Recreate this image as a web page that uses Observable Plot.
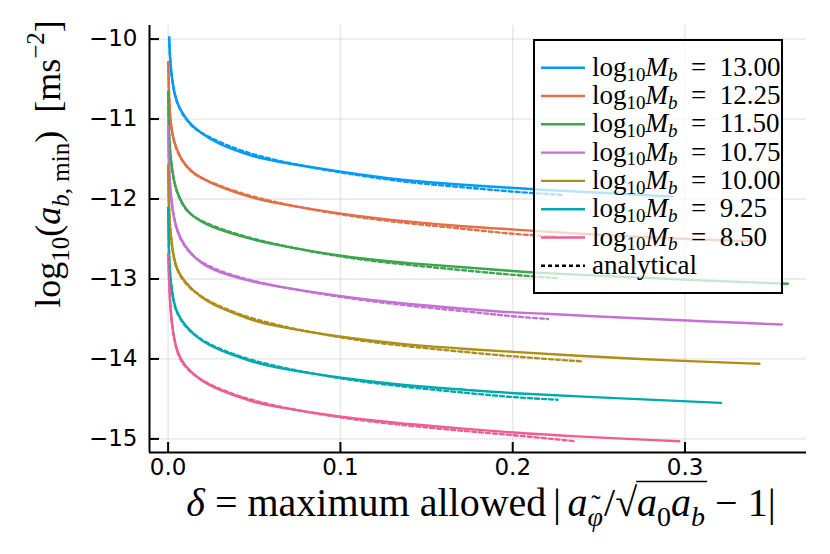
<!DOCTYPE html>
<html><head><meta charset="utf-8">
<script src="https://cdn.jsdelivr.net/npm/d3@7"></script>
<script src="https://cdn.jsdelivr.net/npm/@observablehq/plot@0.6"></script>
<style>body{margin:0;background:#fff}</style>
</head><body><div id="chart"></div>
<script>
// ---- data ----
const massLabels = ["13.00","12.25","11.50","10.75","10.00","9.25","8.50"];
const colors = ["#009AFA","#E36F47","#3EA44E","#C371D2","#AC8E18","#00A9AD","#ED5E93"];
const xTicks = [0, 0.1, 0.2, 0.3];
const yTicks = [-15, -14, -13, -12, -11, -10];

// numerical curves (delta, log10 a_min)
const d1300 = [0.0006,0.0010,0.0017,0.0029,0.0048,0.0077,0.0126,0.0188,0.0285,0.0479,0.0593,0.1,0.1368,0.1756,0.2,0.2124,0.25,0.2928];
const a1300 = [-9.98,-10.20,-10.39,-10.60,-10.77,-10.91,-11.06,-11.17,-11.31,-11.46,-11.52,-11.66,-11.77,-11.83,-11.86,-11.88,-11.92,-11.97];
const d1225 = [0.0001,0.0005,0.0012,0.0025,0.0048,0.0089,0.0145,0.0188,0.0285,0.0479,0.0593,0.1,0.1368,0.1756,0.2,0.2124,0.25,0.3,0.3403];
const a1225 = [-10.29,-10.72,-11.00,-11.20,-11.38,-11.55,-11.67,-11.73,-11.84,-11.98,-12.04,-12.19,-12.28,-12.35,-12.38,-12.40,-12.45,-12.50,-12.53];
const d1150 = [0.0001,0.0003,0.0013,0.0036,0.0052,0.0089,0.0165,0.0285,0.0479,0.0593,0.1,0.1368,0.1756,0.2,0.2124,0.25,0.3,0.3597];
const a1150 = [-10.66,-11.10,-11.50,-11.80,-11.91,-12.10,-12.26,-12.38,-12.50,-12.56,-12.72,-12.80,-12.86,-12.90,-12.92,-12.96,-13.01,-13.06];
const d1075 = [0.0001,0.0004,0.0019,0.0048,0.0089,0.0188,0.0285,0.0479,0.0593,0.1,0.1368,0.1756,0.2,0.2163,0.25,0.3,0.3562];
const a1075 = [-11.09,-11.60,-12.08,-12.38,-12.58,-12.81,-12.91,-13.03,-13.08,-13.22,-13.31,-13.38,-13.42,-13.43,-13.47,-13.52,-13.57];
const d1000 = [0.0001,0.0003,0.0013,0.0035,0.0052,0.0091,0.0188,0.0285,0.0479,0.0593,0.1,0.1368,0.1756,0.2,0.228,0.3,0.3432];
const a1000 = [-11.58,-12.05,-12.45,-12.76,-12.88,-13.03,-13.23,-13.35,-13.51,-13.58,-13.73,-13.82,-13.88,-13.91,-13.95,-14.03,-14.06];
const d925 = [0.0001,0.0004,0.0013,0.0033,0.0052,0.0091,0.0188,0.0285,0.0479,0.0593,0.1,0.1368,0.1756,0.2,0.25,0.3,0.3209];
const a925 = [-12.11,-12.68,-13.02,-13.30,-13.42,-13.57,-13.77,-13.88,-14.03,-14.10,-14.24,-14.33,-14.39,-14.43,-14.48,-14.53,-14.55];
const d850 = [0.0001,0.0009,0.0023,0.0052,0.0091,0.0188,0.0285,0.0479,0.0593,0.1,0.1368,0.1756,0.2,0.228,0.2967];
const a850 = [-12.69,-13.23,-13.62,-13.92,-14.08,-14.27,-14.38,-14.53,-14.59,-14.73,-14.81,-14.88,-14.92,-14.96,-15.03];

// analytical curves (dashed)
const ad1300 = [0.0006,0.0010,0.0017,0.0029,0.0048,0.0077,0.0126,0.0188,0.0479,0.1,0.1368,0.1756,0.2,0.229];
const aa1300 = [-9.98,-10.20,-10.39,-10.61,-10.78,-10.92,-11.07,-11.18,-11.47,-11.67,-11.79,-11.86,-11.91,-11.95];
const ad1225 = [0.0001,0.0005,0.0012,0.0025,0.0048,0.0089,0.0145,0.0188,0.0479,0.1,0.1368,0.1756,0.2,0.226];
const aa1225 = [-10.29,-10.72,-11.00,-11.21,-11.39,-11.56,-11.68,-11.74,-11.99,-12.20,-12.30,-12.38,-12.44,-12.47];
const ad1150 = [0.0001,0.0003,0.0013,0.0036,0.0052,0.0089,0.0165,0.0479,0.1,0.1368,0.1756,0.2,0.226];
const aa1150 = [-10.66,-11.10,-11.50,-11.81,-11.92,-12.11,-12.27,-12.51,-12.73,-12.82,-12.90,-12.95,-12.99];
const ad1075 = [0.0001,0.0004,0.0019,0.0048,0.0089,0.0188,0.0479,0.1,0.1368,0.1756,0.2,0.2205];
const aa1075 = [-11.09,-11.60,-12.08,-12.39,-12.59,-12.82,-13.04,-13.23,-13.33,-13.41,-13.47,-13.50];
const ad1000 = [0.0001,0.0003,0.0013,0.0035,0.0052,0.0091,0.0188,0.0479,0.1,0.1368,0.1756,0.2,0.2395];
const aa1000 = [-11.58,-12.05,-12.45,-12.77,-12.89,-13.04,-13.24,-13.52,-13.74,-13.84,-13.92,-13.97,-14.03];
const ad925 = [0.0001,0.0004,0.0013,0.0033,0.0052,0.0091,0.0188,0.0479,0.1,0.1368,0.1756,0.2,0.226];
const aa925 = [-12.11,-12.68,-13.02,-13.31,-13.43,-13.58,-13.78,-14.04,-14.25,-14.35,-14.43,-14.48,-14.51];
const ad850 = [0.0001,0.0009,0.0023,0.0052,0.0091,0.0188,0.0479,0.1,0.1368,0.1756,0.2,0.2366];
const aa850 = [-12.69,-13.23,-13.63,-13.93,-14.09,-14.28,-14.54,-14.74,-14.83,-14.91,-14.95,-15.03];

// ---- build tables ----
const solidX = [d1300,d1225,d1150,d1075,d1000,d925,d850];
const solidY = [a1300,a1225,a1150,a1075,a1000,a925,a850];
const dashX = [ad1300,ad1225,ad1150,ad1075,ad1000,ad925,ad850];
const dashY = [aa1300,aa1225,aa1150,aa1075,aa1000,aa925,aa850];
const solid = massLabels.flatMap((m,k) => solidX[k].map((x,i) => ({m, x, y: solidY[k][i]})));
const dashed = massLabels.flatMap((m,k) => dashX[k].map((x,i) => ({m, x, y: dashY[k][i]})));

const xDomain = [-0.0108, 0.3705];
const yDomain = [-15.17, -9.83];
const W = 830, H = 554, mL = 149, mR = 24, mT = 25, mB = 102;
const pw = W - mL - mR, ph = H - mT - mB;

const chart = Plot.plot({
  width: W, height: H,
  marginLeft: mL, marginRight: mR, marginTop: mT, marginBottom: mB,
  style: {fontFamily: "DejaVu Sans", fontSize: "23px", color: "#000", background: "#fff"},
  x: {domain: xDomain, ticks: xTicks, tickSize: 0, tickPadding: 6, tickFormat: d3.format(".1f"), label: null},
  y: {domain: yDomain, ticks: yTicks, tickSize: 0, tickPadding: 12, tickFormat: d3.format("d"), label: null},
  color: {domain: massLabels, range: colors},
  marks: [
    Plot.ruleX(xTicks, {stroke: "#000", strokeOpacity: 0.1, strokeWidth: 1.3}),
    Plot.ruleY(yTicks, {stroke: "#000", strokeOpacity: 0.1, strokeWidth: 1.3}),
    Plot.line(solid, {x: "x", y: "y", z: "m", stroke: "m", strokeWidth: 2.4, curve: "basis"}),
    Plot.line(dashed, {x: "x", y: "y", z: "m", stroke: "m", strokeWidth: 2.4, strokeDasharray: "4,3", curve: "basis"}),
    Plot.ruleX([xDomain[0]], {stroke: "#000", strokeWidth: 2}),
    Plot.ruleY([yDomain[0]], {stroke: "#000", strokeWidth: 2}),
    Plot.tickX(xTicks, {x: d => d, stroke: "#000", strokeWidth: 2, insetTop: ph - 10}),
    Plot.tickY(yTicks, {y: d => d, stroke: "#000", strokeWidth: 2, insetRight: pw - 10})
  ]
});
document.getElementById("chart").append(chart);
const svg = d3.select(chart);

const serif = "'Liberation Serif', 'DejaVu Serif', serif";
// pieces: {t, it, sub, sup, raise (extra px up), dx}
function rich(sel, pieces, fs, subDrop = 0.24) {
  let cur = 0;
  pieces.forEach(p => {
    const off = (p.sub ? subDrop * fs : p.sup ? -0.45 * fs : 0) - (p.raise || 0);
    const t = sel.append("tspan").text(p.t);
    if (off - cur !== 0) t.attr("dy", off - cur);
    if (p.dx) t.attr("dx", p.dx);
    cur = off;
    if (p.sub || p.sup) t.attr("font-size", Math.round(fs * 0.7));
    if (p.it) t.attr("font-style", "italic");
  });
  return sel;
}

// ---- legend ----
const lg = svg.append("g");
const lx = 534, ly = 40, lw = 248, lh = 253, step = 28.3, y0 = 67.7, lfs = 27;
lg.append("rect").attr("x", lx).attr("y", ly).attr("width", lw).attr("height", lh)
  .attr("fill", "#fff").attr("fill-opacity", 0.72).attr("stroke", "#000").attr("stroke-width", 2);
const entries = massLabels.map((m, i) => ({m, color: colors[i], dash: null}))
  .concat([{m: null, color: "#000", dash: "4,3"}]);
entries.forEach((e, i) => {
  const yy = y0 + i * step;
  lg.append("line").attr("x1", 541).attr("x2", 585).attr("y1", yy).attr("y2", yy)
    .attr("stroke", e.color).attr("stroke-width", 2.4).attr("stroke-dasharray", e.dash);
  const t = lg.append("text").attr("x", 592).attr("y", yy + 8).attr("text-anchor", "start")
    .attr("font-family", serif).attr("font-size", lfs).attr("fill", "#000");
  if (e.m) rich(t, [{t: "log"}, {t: "10", sub: true}, {t: "M", it: true}, {t: "b", it: true, sub: true},
                    {t: "\u2002=\u2002" + e.m}], lfs, 0.18);
  else t.text("analytical");
});

// ---- x axis title ----
const fx = 40, fxs = Math.round(fx * 0.7);
const xt = svg.append("text").attr("x", 481).attr("y", 516).attr("text-anchor", "middle")
  .attr("font-family", serif).attr("font-size", fx).attr("fill", "#000");
const xPieces = [
  {t: "δ", it: true}, {t: "\u2005=\u2005maximum allowed\u2006|\u2006"}, {t: "a", it: true},
  {t: "φ", it: true, sub: true},
  {t: "˜", sub: true, raise: 0.42 * fxs, dx: -0.42 * fxs},
  {t: "/√", dx: 0.12 * fxs}, {t: "a", it: true}, {t: "0", sub: true}, {t: "a", it: true}, {t: "b", it: true, sub: true},
  {t: "\u2005−\u20051|"}
];
rich(xt, xPieces, fx);
// overline of the square root
try {
  const node = xt.node();
  let idx = 0; const starts = [];
  xPieces.forEach(p => { starts.push(idx); idx += p.t.length; });
  const sqrtIdx = starts[5] + 1;
  const endIdx = starts[10] - 1;
  const ext = node.getExtentOfChar(sqrtIdx);
  const b = node.getEndPositionOfChar(endIdx);
  const top = ext.y + 1.5;
  svg.append("line").attr("x1", ext.x + ext.width - 1).attr("x2", b.x + 2)
    .attr("y1", top).attr("y2", top).attr("stroke", "#000").attr("stroke-width", 1.4);
} catch (e) {}

// ---- y axis title ----
const fy = 36;
const yt = svg.append("text").attr("transform", "translate(60,164) rotate(-90)").attr("text-anchor", "middle")
  .attr("font-family", serif).attr("font-size", fy).attr("fill", "#000");
rich(yt, [{t: "log"}, {t: "10", sub: true}, {t: "("}, {t: "a", it: true}, {t: "b", it: true, sub: true},
  {t: ", min", sub: true}, {t: ")\u2002[ms"}, {t: "−2", sup: true}, {t: "]"}], fy);
</script></body></html>
